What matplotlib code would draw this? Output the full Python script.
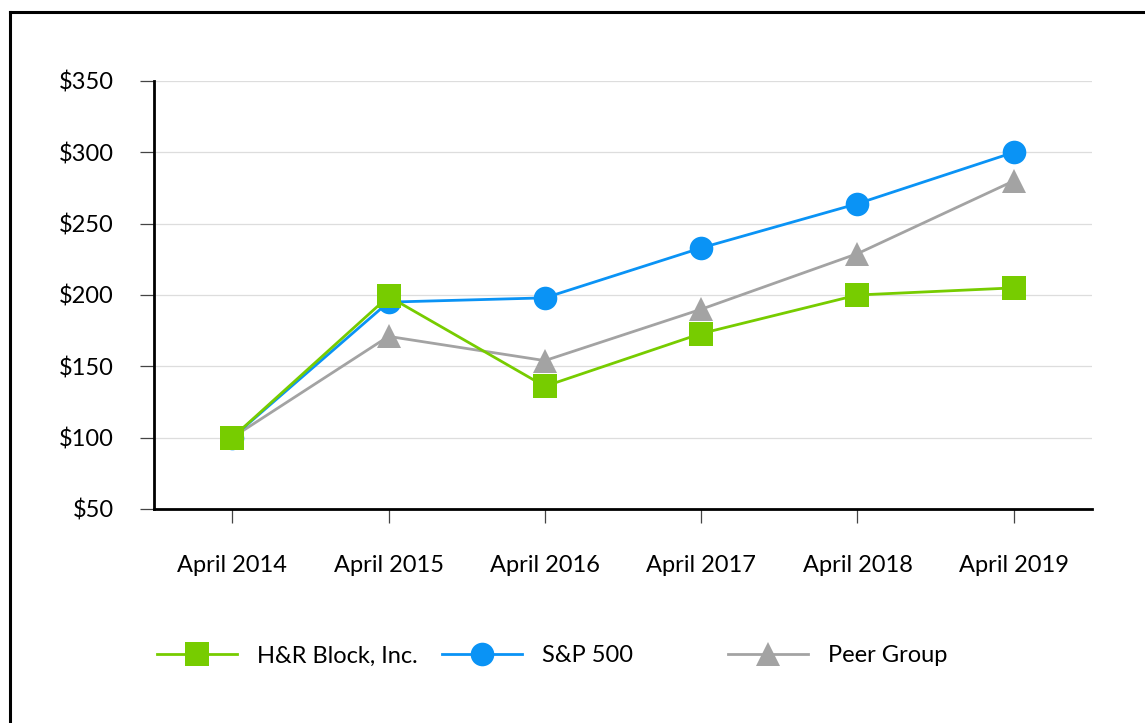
import matplotlib
matplotlib.use("Agg")
import matplotlib.pyplot as plt
from matplotlib.lines import Line2D

plt.rcParams['font.family'] = ['Lato', 'DejaVu Sans']

categories = ["April 2014", "April 2015", "April 2016", "April 2017", "April 2018", "April 2019"]
hrb = [100, 199, 136, 173, 200, 205]
sp500 = [100, 195, 198, 233, 264, 300]
peer = [100, 171, 154, 190, 229, 280]
yticks = [50, 100, 150, 200, 250, 300, 350]
ytick_labels = ["$50", "$100", "$150", "$200", "$250", "$300", "$350"]

c_green = "#77CC00"
c_blue = "#0A93F5"
c_gray = "#A3A3A3"

W, H = 1145, 723
fig = plt.figure(figsize=(W / 100, H / 100), dpi=100)
ax = fig.add_axes([154 / W, 1 - 509 / H, (1092 - 154) / W, (509 - 81) / H])

x = list(range(len(categories)))
ax.plot(x, peer, color=c_gray, lw=2.0, marker="^", ms=17, mew=0, zorder=3)
ax.plot(x, sp500, color=c_blue, lw=2.0, marker="o", ms=17, mew=0, zorder=4)
ax.plot(x, hrb, color=c_green, lw=2.0, marker="s", ms=17, mew=0, zorder=5)

ax.set_xlim(-0.5, 5.5)
ax.set_ylim(50, 350)
ax.set_yticks(yticks)
ax.set_yticklabels(ytick_labels)
ax.set_xticks(x)
ax.set_xticklabels(categories)
ax.yaxis.grid(True, color="#DDDDDD", lw=0.9)
ax.set_axisbelow(True)
for s in ["top", "right"]:
    ax.spines[s].set_visible(False)
for s in ["left", "bottom"]:
    ax.spines[s].set_linewidth(2.0)
    ax.spines[s].set_color("black")
ax.tick_params(axis="y", length=10, width=0.9, color="#444444", pad=19, labelsize=17)
ax.tick_params(axis="x", length=10, width=0.9, color="#444444", pad=23, labelsize=17)

# legends
entries = [
    ("H&R Block, Inc.", c_green, "s", 157),
    ("S&P 500", c_blue, "o", 442),
    ("Peer Group", c_gray, "^", 728),
]
for label, col, mk, px in entries:
    h = Line2D([], [], color=col, lw=2.0, marker=mk, ms=17, mew=0)
    fig.legend([h], [label], loc="center left", bbox_to_anchor=(px / W, 1 - 656 / H),
               frameon=False, fontsize=17, handlelength=3.4, handletextpad=0.85,
               borderpad=0, borderaxespad=0)

# outer frame (left and top edges)
fig.add_artist(Line2D([10 / W, 10 / W], [0, 1 - 12 / H], transform=fig.transFigure, color="black", lw=2.2))
fig.add_artist(Line2D([10 / W, 1], [1 - 12 / H, 1 - 12 / H], transform=fig.transFigure, color="black", lw=2.2))

fig.savefig("out.png", dpi=100)
